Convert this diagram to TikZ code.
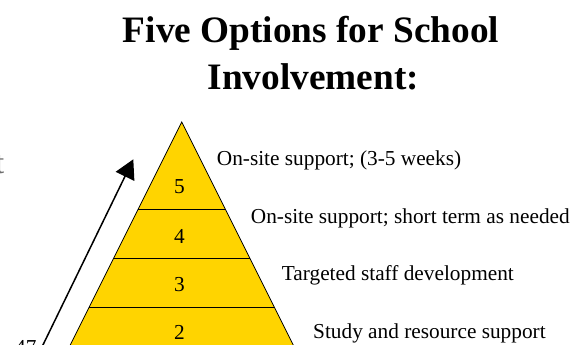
\documentclass[tikz,border=0pt]{standalone}
\usepackage{xcolor}
\usepackage{fontspec}
\setmainfont{Liberation Serif}
\usepackage{tikz}
\usetikzlibrary{arrows.meta, positioning}

\definecolor{pyramidgold}{RGB}{255,212,0}
\definecolor{fadedgray}{RGB}{110,110,110}

\begin{document}
\begin{tikzpicture}[
    x=1pt, y=-1pt,
    >={Triangle[length=19pt, width=20.5pt]},
    every node/.style={align=center, inner sep=0pt}
]

\tikzset{
    titletext/.style={font=\fontsize{37.3}{42}\selectfont\bfseries, anchor=base},
    levelnum/.style={font=\fontsize{21.3}{24}\selectfont, anchor=base},
    optiontext/.style={font=\fontsize{21.3}{24}\selectfont, anchor=base west},
    pyramidfill/.style={fill=pyramidgold, draw=black, line width=0.8pt},
    levelline/.style={draw=black, line width=0.8pt},
    risearrow/.style={->, line width=1.5pt}
}

\useasboundingbox (0,0) rectangle (575,345);
\clip (0,0) rectangle (575,345);

% heading
\node [titletext] (title) at (311,42) {Five Options for School};
\node [titletext] (titlesub) at (313.3,89) {Involvement:};

% pyramid, cut off by the bottom edge
\coordinate (apex) at (181.7,122);
\fill [pyramidfill] (apex) -- (62.7,360) -- (300.7,360) -- cycle;
\foreach \y in {209,258,307}
    \draw [levelline] ({181.7-0.5*(\y-122)},\y) -- ({181.7+0.5*(\y-122)},\y);

% level numbers
\node [levelnum] (lvfive)  at (179.5,193) {5};
\node [levelnum] (lvfour)  at (179.5,243) {4};
\node [levelnum] (lvthree) at (179.5,291) {3};
\node [levelnum] (lvtwo)   at (179.5,339) {2};

% options beside each level
\node [optiontext] (optfive)  at (216.7,165) {On-site support; (3-5 weeks)};
\node [optiontext] (optfour)  at (250.7,223) {On-site support; short term as needed};
\node [optiontext] (optthree) at (281.7,280) {Targeted staff development};
\node [optiontext] (opttwo)   at (313,338.5) {Study and resource support};

% cut-off text at the edges
\node [font=\fontsize{32}{36}\selectfont, text=fadedgray, anchor=base east] (edgeword) at (4.5,173) {t};
\node [levelnum, anchor=base west] (pagenum) at (15,354) {47};

% arrow along the left side
\coordinate (arrowfoot) at (37.6,356);
\coordinate (arrowtip) at (133.3,159.3);
\draw [risearrow] (arrowfoot) -- (arrowtip);

\end{tikzpicture}
\end{document}
